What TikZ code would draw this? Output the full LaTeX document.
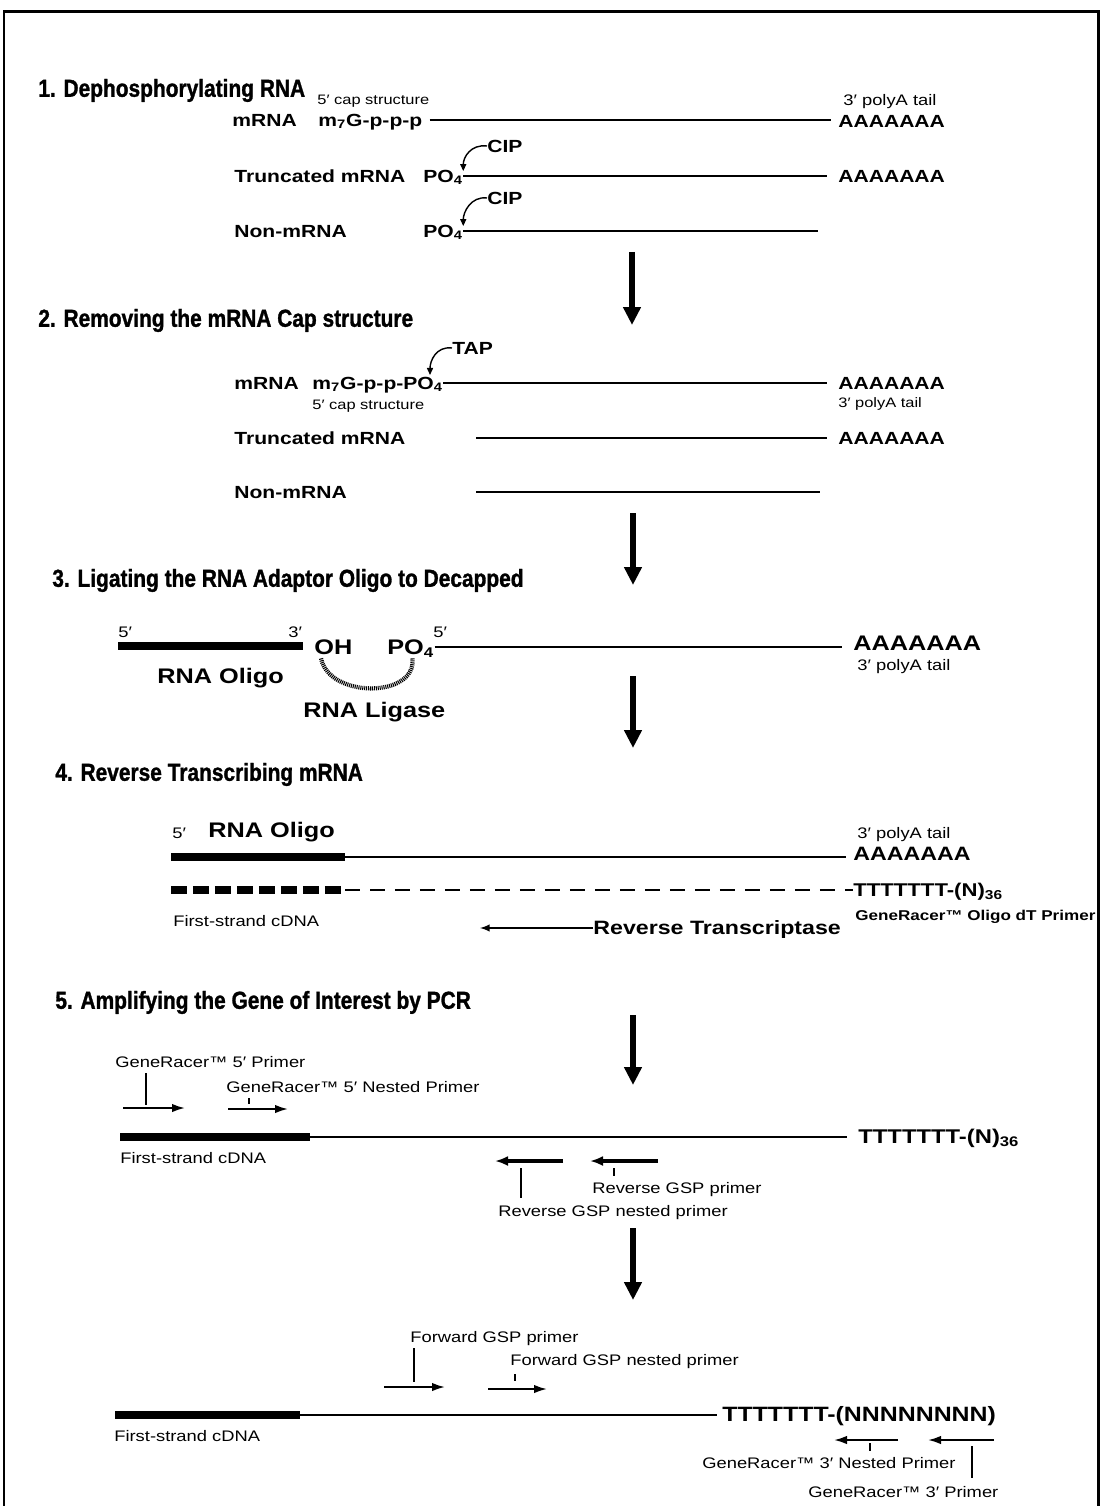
\documentclass[tikz,border=0pt]{standalone}
\usepackage{fontspec}
\setmainfont[FakeStretch=1.2]{Liberation Sans}
\newfontfamily\headfont[FakeStretch=0.85, FakeBold=1.2]{Liberation Sans}
\usetikzlibrary{arrows.meta}

\begin{document}
\begin{tikzpicture}[x=0.02cm, y=-0.02cm, >=latex,
  every node/.style={inner sep=0pt, anchor=west, text depth=0pt},
  head/.style={font=\headfont\bfseries\fontsize{14}{16}\selectfont, text height=10pt},
  lbl/.style={font=\bfseries\fontsize{10}{12}\selectfont, text height=7.2pt},
  big/.style={font=\bfseries\fontsize{12}{14}\selectfont, text height=8.6pt},
  note/.style={font=\fontsize{8.7}{10}\selectfont, text height=6.2pt},
  fine/.style={font=\fontsize{7.8}{9}\selectfont, text height=5.6pt},
  strand/.style={line width=0.9pt},
  oligo/.style={line width=5pt},
  down/.style={line width=2.9pt, -{Triangle[length=0.36cm,width=0.34cm]}},
  enzyme/.style={line width=0.8pt, -{Triangle[length=0.14cm,width=0.12cm]}},
  primer/.style={line width=1.1pt, -{Latex[length=0.26cm,width=0.17cm]}},
  revprimer/.style={line width=2.2pt, -{Latex[length=0.26cm,width=0.2cm]}},
]
  \useasboundingbox (0,0) rectangle (1102,1506);
  \draw[line width=1.7pt] (4,12) rectangle (1098,1540);

  % 1. Dephosphorylating RNA
  \node[head] (h1) at (38,88) {1. Dephosphorylating RNA};
  \node[fine] (capA) at (317,100) {5′ cap structure};
  \node[lbl] (mA) at (232,120) {mRNA};
  \node[lbl] (m7A) at (318,120) {m\textsubscript{7}G-p-p-p};
  \node[note] (tailA) at (843,100) {3′ polyA tail};
  \node[lbl] (aA) at (838,121) {AAAAAAA};
  \draw[strand, shorten <=4pt, shorten >=4pt] (m7A.east) -- (aA.west |- m7A.east);

  \node[lbl] (cipA) at (487,146) {CIP};
  \node[lbl] (trA) at (234,176) {Truncated mRNA};
  \node[lbl] (poA) at (423,176) {PO\textsubscript{4}};
  \node[lbl] (aB) at (838,176) {AAAAAAA};
  \draw[strand, shorten >=6pt] (poA.east) -- (aB.west);
  \draw[enzyme] (cipA.west) .. controls +(-16,-2) and +(0,-14) .. ([yshift=-1pt]poA.north east);

  \node[lbl] (cipB) at (487,198) {CIP};
  \node[lbl] (nonA) at (234,231) {Non-mRNA};
  \node[lbl] (poB) at (423,231) {PO\textsubscript{4}};
  \coordinate (endA) at (818,231);
  \draw[strand] (poB.east) -- (endA);
  \draw[enzyme] (cipB.west) .. controls +(-16,-2) and +(0,-14) .. ([yshift=-1pt]poB.north east);

  \draw[down] (632,252) -- (632,325);

  % 2. Removing the mRNA Cap structure
  \node[head] (h2) at (38,318) {2. Removing the mRNA Cap structure};
  \node[lbl] (tap) at (452,348) {TAP};
  \node[lbl] (mB) at (234,383) {mRNA};
  \node[lbl] (m7B) at (312,383) {m\textsubscript{7}G-p-p-PO\textsubscript{4}};
  \node[lbl] (aC) at (838,383) {AAAAAAA};
  \node[fine] (capB) at (312,405) {5′ cap structure};
  \node[fine] (tailB) at (838,403) {3′ polyA tail};
  \draw[strand, shorten >=6pt] (m7B.east) -- (aC.west);
  \draw[enzyme] (tap.west) .. controls +(-16,-2) and +(0,-14) .. (430,375);

  \node[lbl] (trB) at (234,438) {Truncated mRNA};
  \node[lbl] (aD) at (838,438) {AAAAAAA};
  \coordinate (startB) at (476,438);
  \draw[strand, shorten >=6pt] (startB) -- (aD.west);

  \node[lbl] (nonB) at (234,492) {Non-mRNA};
  \coordinate (startC) at (476,492);
  \coordinate (endC) at (820,492);
  \draw[strand] (startC) -- (endC);

  \draw[down] (633,513) -- (633,585);

  % 3. Ligating the RNA Adaptor Oligo
  \node[head] (h3) at (52,578) {3. Ligating the RNA Adaptor Oligo to Decapped};
  \node[note] (fiveA) at (118,632) {5′};
  \node[note] (threeA) at (288,632) {3′};
  \coordinate (olA) at (118,646);
  \coordinate (olB) at (303,646);
  \draw[oligo] (olA) -- (olB);
  \node[big] (oh) at (314,647) {OH};
  \node[big] (poC) at (387,647) {PO\textsubscript{4}};
  \node[note] (fiveB) at (433,632) {5′};
  \node[big] (aE) at (853,643) {AAAAAAA};
  \node[note] (tailC) at (857,665) {3′ polyA tail};
  \draw[strand, shorten >=6pt] (poC.east |- oh.west) -- (aE.west |- oh.west);
  \node[big] (olgA) at (157,676) {RNA Oligo};
  \draw[line width=2.4pt, dash pattern=on 0.6pt off 0.5pt]
    ([xshift=-7pt, yshift=-2pt]oh.south) .. controls +(8,40) and +(4,40) .. ([xshift=1pt, yshift=-2pt]poC.south);
  \node[big] (lig) at (303,710) {RNA Ligase};

  \draw[down] (633,676) -- (633,748);

  % 4. Reverse Transcribing mRNA
  \node[head] (h4) at (55,772) {4. Reverse Transcribing mRNA};
  \node[note] (fiveC) at (172,833) {5′};
  \node[big] (olgB) at (208,830) {RNA Oligo};
  \node[note] (tailD) at (857,833) {3′ polyA tail};
  \node[big, font=\bfseries\fontsize{11}{13}\selectfont] (aF) at (853,853) {AAAAAAA};
  \coordinate (olC) at (171,857);
  \coordinate (olD) at (345,857);
  \draw[oligo] (olC) -- (olD);
  \draw[strand] (olD) -- ([xshift=-4pt]aF.west |- olD);
  \coordinate (cdA) at (171,890);
  \coordinate (cdB) at (345,890);
  \draw[oligo, dash pattern=on 0.32cm off 0.12cm] (cdA) -- (cdB);
  \node[lbl, font=\bfseries\fontsize{10.5}{12}\selectfont] (tnA) at (853,890) {TTTTTTT-(N)\textsubscript{36}};
  \draw[strand, dash pattern=on 0.3cm off 0.2cm] (cdB) -- (tnA.west);
  \node[note, font=\bfseries\fontsize{8.1}{10}\selectfont] (oligodT) at (855,915) {GeneRacer™ Oligo dT Primer};
  \node[note] (fsA) at (173,921) {First-strand cDNA};
  \node[lbl, font=\bfseries\fontsize{11}{13}\selectfont] (rt) at (593,928) {Reverse Transcriptase};
  \coordinate (rtend) at (480,928);
  \draw[strand, ->] (rt.west) -- (rtend);

  \draw[down] (633,1015) -- (633,1085);

  % 5. Amplifying the Gene of Interest by PCR
  \node[head] (h5) at (55,1000) {5. Amplifying the Gene of Interest by PCR};
  \node[note] (gr5) at (115,1062) {GeneRacer™ 5′ Primer};
  \draw[line width=1.7pt] (146,1073) -- (146,1105);
  \draw[primer] (123,1108) -- (185,1108);
  \node[note] (gr5n) at (226,1087) {GeneRacer™ 5′ Nested Primer};
  \draw[line width=1.2pt] (249,1098) -- (249,1104);
  \draw[primer] (228,1109) -- (288,1109);
  \coordinate (olE) at (120,1137);
  \coordinate (olF) at (310,1137);
  \draw[oligo] (olE) -- (olF);
  \node[lbl, font=\bfseries\fontsize{11.3}{13}\selectfont] (tnB) at (858,1137) {TTTTTTT-(N)\textsubscript{36}};
  \draw[line width=1.4pt, shorten >=6pt] (olF) -- (tnB.west);
  \node[note] (fsB) at (120,1158) {First-strand cDNA};
  \draw[revprimer] (563,1161) -- (495,1161);
  \draw[revprimer] (658,1161) -- (590,1161);
  \draw[line width=1.3pt] (521,1168) -- (521,1198);
  \draw[line width=1.3pt] (614,1168) -- (614,1176);
  \node[note] (rgsp) at (592,1188) {Reverse GSP primer};
  \node[note] (rgspn) at (498,1211) {Reverse GSP nested primer};

  \draw[down] (633,1228) -- (633,1300);

  % 3' end
  \node[note] (fgsp) at (410,1337) {Forward GSP primer};
  \draw[strand] (414,1348) -- (414,1382);
  \draw[primer] (384,1387) -- (445,1387);
  \node[note] (fgspn) at (510,1360) {Forward GSP nested primer};
  \draw[strand] (515,1374) -- (515,1381);
  \draw[primer] (488,1389) -- (547,1389);
  \coordinate (olG) at (115,1415);
  \coordinate (olH) at (300,1415);
  \draw[oligo] (olG) -- (olH);
  \node[lbl, font=\bfseries\fontsize{11.8}{14}\selectfont] (tnC) at (722,1415) {TTTTTTT-(NNNNNNNN)};
  \draw[strand, shorten >=3pt] (olH) -- (tnC.west);
  \node[note] (fsC) at (114,1436) {First-strand cDNA};
  \draw[primer] (898,1440) -- (834,1440);
  \draw[primer] (994,1440) -- (928,1440);
  \draw[strand] (870,1443) -- (870,1451);
  \draw[strand] (972,1446) -- (972,1478);
  \node[note] (gr3n) at (702,1463) {GeneRacer™ 3′ Nested Primer};
  \node[note] (gr3) at (808,1492) {GeneRacer™ 3′ Primer};
\end{tikzpicture}
\end{document}
